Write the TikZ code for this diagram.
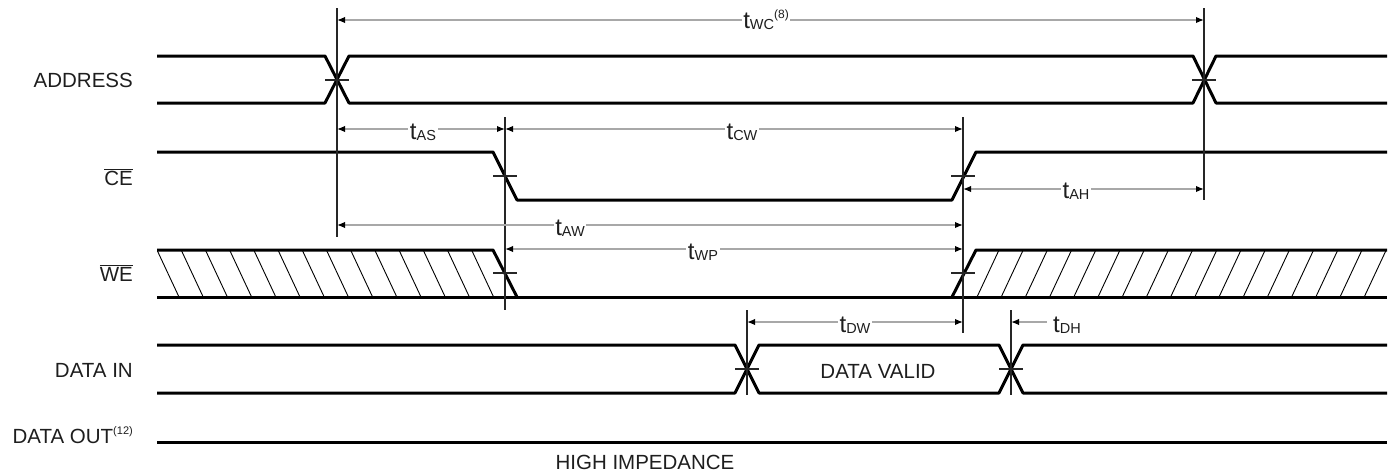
\documentclass[tikz,border=0pt]{standalone}
\usepackage{fontspec}
\setmainfont{Liberation Sans}
\usetikzlibrary{arrows.meta}
\definecolor{txt}{HTML}{1E1E1E}
\definecolor{dimc}{HTML}{A8A8A8}
\newcommand{\tlab}[1]{{\fontsize{24}{24}\selectfont t}\raisebox{-1pt}{\fontsize{14.5}{14.5}\selectfont #1}}
\newcommand{\supnum}[1]{\raisebox{9.5pt}{\fontsize{12}{12}\selectfont #1}}
\newcommand{\supsmall}[1]{\raisebox{9pt}{\fontsize{11}{11}\selectfont #1}}
\begin{document}
\begin{tikzpicture}[x=1pt,y=-1pt,
  sig/.style={line width=3pt, line join=round},
  vline/.style={line width=1.3pt, draw=black!85},
  tickmk/.style={line width=1.3pt, draw=black!85},
  hatchln/.style={line width=0.9pt},
  dimline/.style={draw=dimc, line width=1.5pt},
  tipR/.style={-{Latex[length=8pt,width=6.5pt,color=black]}},
  tipLR/.style={{Latex[length=8pt,width=6.5pt,color=black]}-{Latex[length=8pt,width=6.5pt,color=black]}},
  siglab/.style={font=\fontsize{20.5}{22}\selectfont, text=txt, inner sep=0pt},
  dimlab/.style={text=txt, fill=white, inner sep=1.5pt, anchor=base}
]
\useasboundingbox (0,0) rectangle (1395,471);

% ---------- signal labels ----------
\node[siglab, anchor=base east] (lAddr) at (133,87) {ADDRESS};
\node[siglab, anchor=base east] (lCE) at (133,185) {$\overline{\mbox{CE}}$};
\node[siglab, anchor=base east] (lWE) at (133,281) {$\overline{\mbox{WE}}$};
\node[siglab, anchor=base east] (lDin) at (133,377) {DATA IN};
\node[siglab, anchor=base east] (lDout) at (133,443) {DATA OUT\supsmall{(12)}};
\node[siglab, anchor=base] (lHiZ) at (645,469) {HIGH IMPEDANCE};

% ---------- ADDRESS ----------
\draw[sig] (157,56) -- (325,56) -- (349,103) -- (1193,103) -- (1216,56) -- (1387,56);
\draw[sig] (157,103) -- (325,103) -- (349,56) -- (1193,56) -- (1216,103) -- (1387,103);

% ---------- CE ----------
\draw[sig] (157,152) -- (493,152) -- (517,200) -- (952,200) -- (976,152) -- (1387,152);

% ---------- WE ----------
\begin{scope}
  \clip (157,250) -- (493,250) -- (517,297) -- (157,297) -- cycle;
  \foreach \k in {0,...,14}{
    \draw[hatchln] ({157+24.2*\k},250) -- ({179+24.2*\k},297);
  }
\end{scope}
\begin{scope}
  \clip (952,297) -- (976,250) -- (1387,250) -- (1387,297) -- cycle;
  \foreach \k in {0,...,18}{
    \draw[hatchln] ({977+24.2*\k},297) -- ({999+24.2*\k},250);
  }
\end{scope}
\draw[sig] (157,250) -- (493,250) -- (517,297);
\draw[sig] (157,297) -- (1387,297);
\draw[sig] (952,297) -- (976,250) -- (1387,250);

% ---------- DATA IN ----------
\draw[sig] (157,345) -- (735,345) -- (759,393) -- (999,393) -- (1023,345) -- (1387,345);
\draw[sig] (157,393) -- (735,393) -- (759,345) -- (999,345) -- (1023,393) -- (1387,393);
\node[siglab, anchor=base] (lValid) at (878,378) {DATA VALID};

% ---------- DATA OUT ----------
\draw[sig] (157,442) -- (1387,442);

% ---------- reference verticals ----------
\coordinate (v1t) at (337,8);   \coordinate (v1b) at (337,237);
\coordinate (v2t) at (505,117); \coordinate (v2b) at (505,310);
\coordinate (v3t) at (963,117); \coordinate (v3b) at (963,333);
\coordinate (v4t) at (1204,8);  \coordinate (v4b) at (1204,200);
\coordinate (v5t) at (747,310); \coordinate (v5b) at (747,395);
\coordinate (v6t) at (1011,310);\coordinate (v6b) at (1011,395);
\foreach \v in {1,...,6}{ \draw[vline] (v\v t) -- (v\v b); }

% ---------- ticks at crossings ----------
\foreach \x/\y in {337/80, 1204/80, 505/176, 963/176, 505/273, 963/273, 747/369, 1011/369}{
  \draw[tickmk] (\x-12,\y) -- (\x+12,\y);
}

% ---------- timing dimensions ----------
\coordinate (wcA) at (337,20);  \coordinate (wcB) at (1204,20);
\coordinate (asA) at (337,129); \coordinate (asB) at (505,129);
\coordinate (cwA) at (505,129); \coordinate (cwB) at (963,129);
\coordinate (ahA) at (963,189); \coordinate (ahB) at (1204,189);
\coordinate (awA) at (337,225); \coordinate (awB) at (963,225);
\coordinate (wpA) at (505,249); \coordinate (wpB) at (963,249);
\coordinate (dwA) at (747,322); \coordinate (dwB) at (963,322);
\coordinate (dhA) at (1047,322); \coordinate (dhB) at (1011,322);

\draw[dimline, tipLR] (wcA) -- (wcB);
\draw[dimline, tipLR] (asA) -- (asB);
\draw[dimline, tipLR] (cwA) -- (cwB);
\draw[dimline, tipLR] (ahA) -- (ahB);
\draw[dimline, tipLR] (awA) -- (awB);
\draw[dimline, tipLR] (wpA) -- (wpB);
\draw[dimline, tipLR] (dwA) -- (dwB);
\draw[dimline, tipR] (dhA) -- (dhB);

\node[dimlab] (tWC) at (766,28) {\tlab{WC}\supnum{(8)}};
\node[dimlab] (tAS) at (423,139) {\tlab{AS}};
\node[dimlab] (tCW) at (742,139.5) {\tlab{CW}};
\node[dimlab] (tAH) at (1076,198.5) {\tlab{AH}};
\node[dimlab] (tAW) at (570,235) {\tlab{AW}};
\node[dimlab] (tWP) at (703,259) {\tlab{WP}};
\node[dimlab] (tDW) at (855,332) {\tlab{DW}};
\node[text=txt, inner sep=0pt, anchor=base west] (tDH) at (1053,332) {\tlab{DH}};
\end{tikzpicture}
\end{document}
